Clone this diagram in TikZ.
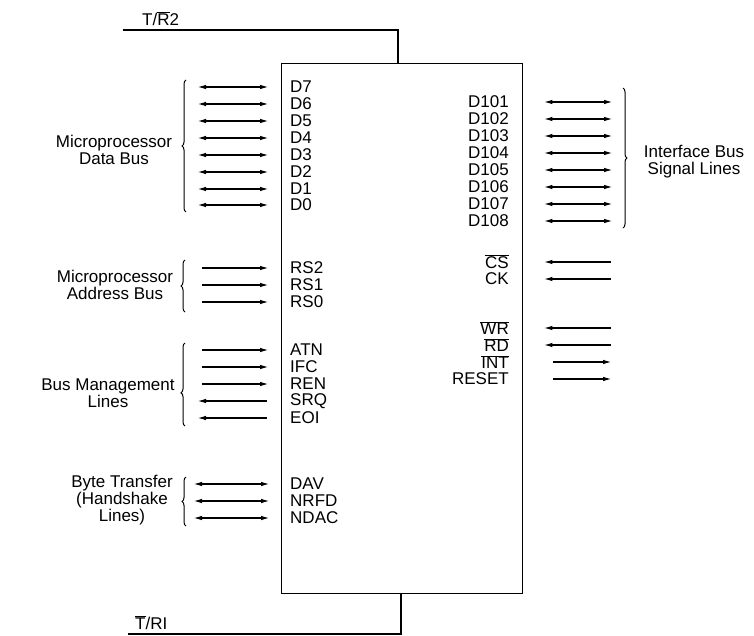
\documentclass[tikz,border=0pt]{standalone}
\usepackage{fontspec}
\setmainfont{Liberation Sans}
\usetikzlibrary{arrows.meta,decorations.pathreplacing}
\newcommand\negsig[1]{$\overline{\mbox{#1}}$}
\begin{document}
\begin{tikzpicture}[x=1pt, y=-1pt, >={Latex[length=9pt, width=4.5pt]},
    sig/.style = {line width=1.5pt},
    pin/.style = {inner sep=0pt, font=\fontsize{17}{17}\selectfont},
    grp/.style = {inner sep=0pt, align=center, font=\fontsize{17}{17}\selectfont},
    brc/.style = {decorate, decoration={brace, amplitude=4pt}, line width=1pt}]
    \useasboundingbox (0,0) rectangle (754,636);
    % the chip
    \node [draw, line width=1.4pt, inner sep=0pt, minimum width=241pt, minimum height=530pt,
           anchor=north west] (chip) at (281,63) {};
    % T/R lines
    \coordinate (tr2) at (123,30);
    \coordinate (tr2in) at (398,63);
    \draw [line width=1.2pt] (tr2) -| (tr2in);
    \node [pin, anchor=south west] (tr2lbl) at (142,26) {T/\negsig{R}2};
    \coordinate (tr1) at (128,634);
    \coordinate (tr1in) at (401,593);
    \draw [line width=1.2pt] (tr1) -| (tr1in);
    \node [pin, anchor=south west] (tr1lbl) at (135,630) {\negsig{T}/RI};
    % data bus
    \foreach \n/\y in {D7/87, D6/104, D5/121, D4/138, D3/155, D2/172, D1/189, D0/205} {
        \node [pin, anchor=west] (\n) at (290,\y) {\n};
        \draw [sig, <->, shorten >=12pt] (197,\y) -- (\n.west -| chip.west);
    }
    % address bus and bus management inputs
    \foreach \n/\y in {RS2/268, RS1/285, RS0/302, ATN/350, IFC/367, REN/384} {
        \node [pin, anchor=west] (\n) at (290,\y) {\n};
        \draw [sig, ->, shorten >=12pt] (202,\y) -- (\n.west -| chip.west);
    }
    \foreach \n/\y in {SRQ/401, EOI/418} {
        \node [pin, anchor=west] (\n) at (290,\y) {\n};
        \draw [sig, <-, shorten >=14pt] (197,\y) -- (\n.west -| chip.west);
    }
    % handshake
    \foreach \n/\y in {DAV/484, NRFD/501, NDAC/518} {
        \node [pin, anchor=west] (\n) at (290,\y) {\n};
        \draw [sig, <->, shorten >=11pt] (193,\y) -- (\n.west -| chip.west);
    }
    % interface bus
    \foreach \n/\y in {D101/102, D102/119, D103/136, D104/153, D105/170, D106/187, D107/204, D108/221} {
        \node [pin, anchor=east] (\n) at (509,\y) {\n};
        \draw [sig, <->, shorten <=20pt] (\n.east -| chip.east) -- (613,\y);
    }
    % control lines
    \foreach \n/\t/\y in {CS/\negsig{CS}/262, CK/CK/279, WR/\negsig{WR}/328, RD/\negsig{RD}/345} {
        \node [pin, anchor=east] (\n) at (509,\y) {\t};
        \draw [sig, <-, shorten <=20pt] (\n.east -| chip.east) -- (611,\y);
    }
    \foreach \n/\t/\y in {INT/\negsig{INT}/362, RESET/RESET/379} {
        \node [pin, anchor=east] (\n) at (509,\y) {\t};
        \draw [sig, ->, shorten <=30pt] (\n.east -| chip.east) -- (612,\y);
    }
    % group labels
    \node [grp] (databus) at (114,150) {Microprocessor\\Data Bus};
    \node [grp] (addrbus) at (115,285) {Microprocessor\\Address Bus};
    \node [grp] (mgmt) at (108,393) {Bus Management\\Lines};
    \node [grp] (xfer) at (122,500) {Byte Transfer\\(Handshake\\Lines)};
    \node [grp] (ifbus) at (694,162) {Interface Bus\\Signal Lines};
    \draw [brc] (186,212) -- (186,80);
    \draw [brc] (185,312) -- (185,260);
    \draw [brc, decoration={aspect=0.4}] (185,426) -- (185,343);
    \draw [brc] (186,526) -- (186,477);
    \draw [brc] (623,88) -- (623,228);
\end{tikzpicture}
\end{document}
